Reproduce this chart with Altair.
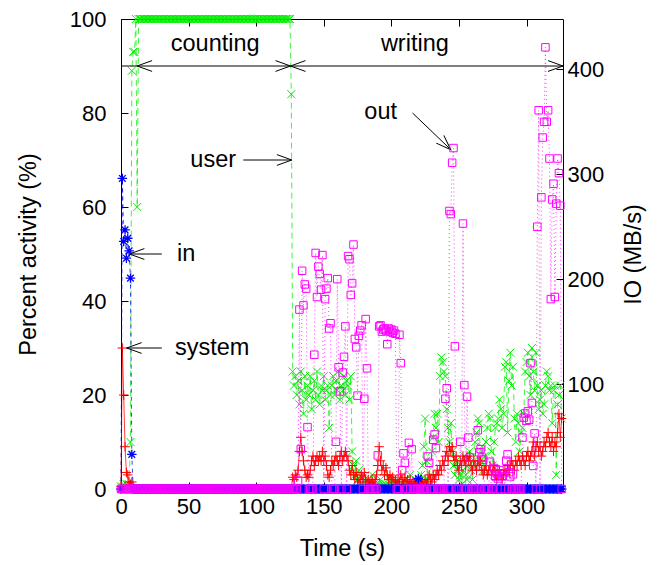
import altair as alt
import pandas as pd

# ---------------- data ----------------
# start-up phase, t = 0..12 s
t_early = [0, 1, 2, 3, 4, 5, 6, 7, 8, 9, 10, 11, 12]
user_early = [0.5, 0.5, 1, 0.5, 1, 1, 1, 10, 89, 93, 93, 100, 60]
system_early = [0.5, 30, 20, 9, 3.5, 3, 1.5, 1, 1.5, 0.5, 0, 0, 0]
in_early = [0, 296, 236, 247, 220, 239, 227, 201, 33, 0, 0, 0, 0]
out_early = [0, 0, 0, 0, 0, 0, 0, 0, 0, 0, 0, 0, 0]

# counting phase, t = 13..126 s (user saturated at 100 %, no IO)
t_count = list(range(13, 127))
user_count = [100] * 113 + [84]
system_count = [0] * 114
in_count = [0] * 114
out_count = [0] * 114

# writing phase, t = 127..326 s
t_write = list(range(127, 327))
user_write = [
    25, 22, 24, 20, 23, 18, 25, 21, 16, 24,
    19, 22, 20, 24, 17, 21, 23, 19, 25, 20,
    18, 22, 21, 24, 19, 21, 22, 13, 20, 22,
    24, 20, 23, 21, 25, 19, 22, 21, 24, 20,
    23, 22, 19, 24, 8, 5, 3, 6, 2, 4,
    1, 3, 1, 2, 0.5, 1, 2, 0.5, 1, 3,
    1, 0.5, 1, 0.5, 1, 2, 0.5, 1, 0.5, 1,
    0.5, 1, 2, 1, 0.5, 1, 0.5, 2, 1, 0.5,
    1, 0.5, 1, 2, 1, 0.5, 1, 3, 1, 0.5,
    1, 2, 1, 0.5, 2, 3, 5, 9, 15, 6,
    2, 1, 3, 8, 11, 16, 13, 16, 10, 24,
    28, 27, 25, 24, 17, 13, 10, 14, 8, 5,
    3, 6, 4, 2, 3, 1, 4, 7, 3, 2,
    5, 8, 4, 2, 6, 10, 12, 15, 14, 6,
    9, 4, 7, 10, 13, 16, 15, 8, 5, 10,
    13, 14, 15, 19, 17, 13, 16, 26, 27, 12,
    23, 29, 22, 26, 15, 10, 16, 14, 8, 12,
    13, 16, 25, 27, 29, 24, 20, 30, 25, 21,
    29, 22, 17, 19, 21, 16, 18, 22, 25, 24,
    21, 22, 14, 21, 22, 3, 18, 20, 22, 15,
]
system_write = [
    2.5, 2, 3, 2.5, 4, 8, 11, 8, 6, 4,
    2.5, 3, 2.5, 4, 6, 7, 5, 6, 7, 6,
    7, 6, 8, 6, 7, 5, 3, 2.5, 4, 6,
    5, 6, 7, 6, 5, 7, 8, 6, 7, 8,
    7, 6, 4, 3, 5, 3, 2, 3.5, 2, 1.5,
    2, 3, 2, 3.5, 2, 1.5, 2, 1, 2, 1.5,
    1, 2, 3, 5, 9, 6, 4, 5, 3, 4.5,
    3, 2, 3, 2, 2.5, 1.5, 2, 1, 2, 1.5,
    3, 2, 1, 2.5, 1.5, 2, 1, 2, 1, 1.5,
    1, 2, 1, 1.5, 1, 2, 1.5, 1, 2, 1,
    2, 3, 2, 1.5, 3, 2, 3, 4, 3, 5,
    4, 6, 5, 7, 8, 6, 9, 8, 9, 7,
    6, 7, 5, 4, 6, 5, 7, 6, 5, 7,
    6, 7, 5, 4, 6, 5, 4, 6, 5, 6,
    4, 3, 4, 5, 3, 4, 5, 3, 4, 5,
    3, 2, 3, 4, 3, 2, 3, 4, 3, 5,
    4, 5, 6, 5, 4, 6, 5, 7, 6, 5,
    7, 6, 5, 7, 8, 6, 7, 8, 10, 7,
    9, 10, 8, 9, 7, 8, 10, 9, 11, 12,
    10, 9, 11, 8, 10, 9, 12, 16, 11, 15,
]
in_write = [0] * 93 + [10] + [0] * 106
out_write = [
    0, 0, 0, 0, 8, 171, 38, 208, 175, 195,
    191, 59, 0, 0, 0, 0, 128, 225, 183, 212,
    205, 190, 223, 0, 181, 191, 201, 153, 158, 0,
    0, 0, 45, 200, 116, 93, 0, 111, 126, 155,
    0, 222, 219, 185, 196, 233, 143, 135, 89, 146,
    151, 156, 0, 86, 162, 115, 0, 0, 0, 0,
    0, 0, 0, 32, 155, 156, 150, 152, 153, 151,
    138, 153, 150, 152, 149, 151, 148, 0, 0, 147,
    120, 18, 34, 25, 0, 0, 44, 0, 38, 0,
    0, 0, 0, 0, 0, 0, 0, 0, 0, 0,
    31, 25, 0, 0, 47, 52, 39, 0, 0, 0,
    0, 0, 0, 86, 96, 0, 265, 262, 311, 325,
    136, 0, 0, 0, 45, 0, 253, 99, 0, 88,
    49, 30, 0, 0, 0, 0, 0, 56, 35, 38,
    30, 28, 0, 0, 0, 0, 26, 0, 0, 20,
    12, 15, 10, 18, 0, 12, 15, 0, 27, 33,
    16, 12, 0, 14, 0, 0, 0, 0, 0, 0,
    49, 68, 72, 65, 74, 66, 120, 82, 22, 53,
    0, 250, 361, 0, 278, 335, 350, 421, 350, 361,
    315, 181, 276, 291, 183, 272, 315, 301, 270, 0,
]

# annotations (left-axis coordinates)
label_text = ["counting", "writing", "user", "in", "system", "out"]
label_t = [69.7, 217.4, 68.2, 48.2, 67.5, 192.1]
label_v = [94.7, 94.7, 70, 50, 30, 80.3]

arrow_t = [0, 11.9, 125.4, 90.5, 30.2, 30.2, 215.7]
arrow_v = [90, 90, 90, 70, 50, 30, 80]
arrow_t2 = [11.9, 125.4, 327, 126.4, 6.2, 4.2, 244]
arrow_v2 = [90, 90, 90, 70, 50, 30, 72.2]

head_t = [11.9, 125.4, 125.4, 327, 126.4, 6.2, 4.2, 244]
head_v = [90, 90, 90, 90, 70, 50, 30, 72.2]
head_angle = [180, 0, 180, 0, 0, 180, 180, 44]

x_ticks = [0, 50, 100, 150, 200, 250, 300]
y_ticks = [0, 20, 40, 60, 80, 100]
y2_ticks = [100, 200, 300, 400]

# ---------------- tables ----------------
df = pd.DataFrame({
    "t": t_early + t_count + t_write,
    "user": user_early + user_count + user_write,
    "system": system_early + system_count + system_write,
    "io_in": in_early + in_count + in_write,
    "io_out": out_early + out_count + out_write,
})
labels = pd.DataFrame({"t": label_t, "v": label_v, "txt": label_text})
arrows = pd.DataFrame({"t": arrow_t, "v": arrow_v, "t2": arrow_t2, "v2": arrow_v2})
heads = pd.DataFrame({"t": head_t, "v": head_v, "ang": head_angle})

FONT = "Liberation Sans"
W, H = 442, 470
OFF = -7

xscale = alt.Scale(domain=[0, 327], nice=False, zero=False)
yscale = alt.Scale(domain=[0, 100], nice=False)
y2scale = alt.Scale(domain=[0, 448], nice=False)

x_bottom_axis = alt.Axis(values=x_ticks, orient="bottom", offset=OFF, domain=False,
                         tickSize=7, labelPadding=7, labelFlush=False, grid=False,
                         title="Time (s)", titleX=W / 2, titleY=66,
                         titleAlign="center", titleBaseline="middle")
x_top_axis = alt.Axis(values=x_ticks, orient="top", offset=OFF, domain=False,
                      tickSize=7, labels=False, grid=False, title="")
y_axis = alt.Axis(values=y_ticks, orient="left", offset=OFF, domain=False,
                  tickSize=7, labelPadding=15, labelFlush=False, grid=False,
                  title="Percent activity (%)", titleAngle=270, titleX=-100,
                  titleY=H / 2, titleAlign="center", titleBaseline="middle")
y2_axis = alt.Axis(values=y2_ticks, orient="right", offset=OFF, domain=False,
                   tickSize=7, labelPadding=4, labelFlush=False, grid=False,
                   title="IO (MB/s)", titleAngle=270, titleX=77,
                   titleY=H / 2, titleAlign="center", titleBaseline="middle")

xb = alt.X("t:Q", scale=xscale, axis=x_bottom_axis)
xt = alt.X("t:Q", scale=xscale, axis=x_top_axis)

PLUS = "M-1,0L1,0M0,-1L0,1"
CROSS = "M-1,-1L1,1M-1,1L1,-1"
STAR = "M-1,0L1,0M0,-1L0,1M-0.7,-0.7L0.7,0.7M-0.7,0.7L0.7,-0.7"
HEAD = "M-1,-0.36L0,0L-1,0.36"

RED, GREEN, BLUE, MAG = "#ff0000", "#00f000", "#0000ff", "#ff00ff"

base = alt.Chart(df)


def series(field, color, dash, shape, size, left=True, sw=1):
    y = alt.Y(f"{field}:Q", scale=yscale if left else y2scale,
              axis=y_axis if left else y2_axis)
    x = xb if left else xt
    line_kw = dict(color=color, strokeWidth=1, opacity=0.75, clip=False)
    if dash:
        line_kw["strokeDash"] = dash
    line = base.mark_line(**line_kw).encode(x=x, y=y)
    pts = base.mark_point(shape=shape, size=size, filled=False, color=color,
                          strokeWidth=sw, opacity=1, clip=False).encode(x=x, y=y)
    return line, pts


u_line, u_pts = series("user", GREEN, [6, 4], CROSS, 64)
s_line, s_pts = series("system", RED, None, PLUS, 90)
i_line, i_pts = series("io_in", BLUE, [4, 4], STAR, 90, left=False, sw=1.3)
o_line, o_pts = series("io_out", MAG, [1, 3], "square", 56, left=False)

ann_rules = alt.Chart(arrows).mark_rule(color="black", strokeWidth=1).encode(
    x=xb, x2="t2:Q",
    y=alt.Y("v:Q", scale=yscale, axis=y_axis), y2="v2:Q")
ann_heads = alt.Chart(heads).mark_point(shape=HEAD, size=900, filled=False,
                                        color="black", strokeWidth=1, opacity=1).encode(
    x=xb, y=alt.Y("v:Q", scale=yscale, axis=y_axis),
    angle=alt.Angle("ang:Q", scale=None))
ann_text = alt.Chart(labels).mark_text(font=FONT, fontSize=23.5, color="black",
                                       align="center", baseline="middle").encode(
    x=xb, y=alt.Y("v:Q", scale=yscale, axis=y_axis), text="txt:N")

left = alt.layer(u_line, u_pts, s_line, s_pts, ann_rules, ann_heads, ann_text)
right = alt.layer(o_line, i_line, i_pts, o_pts)

chart = alt.layer(left, right).resolve_scale(
    y="independent"
).resolve_axis(
    x="independent", y="independent"
).properties(
    width=W, height=H,
    autosize=alt.AutoSizeParams(type="none"),
    padding={"left": 113, "top": 11, "right": 89, "bottom": 76},
).configure_view(
    stroke="black", strokeWidth=1
).configure_axis(
    labelFont=FONT, titleFont=FONT, labelFontSize=22, titleFontSize=23.5,
    labelColor="black", titleColor="black", tickColor="black", tickWidth=1,
    titleFontWeight="normal"
)

chart.save("out.html", embed_options={"renderer": "svg", "actions": False})
